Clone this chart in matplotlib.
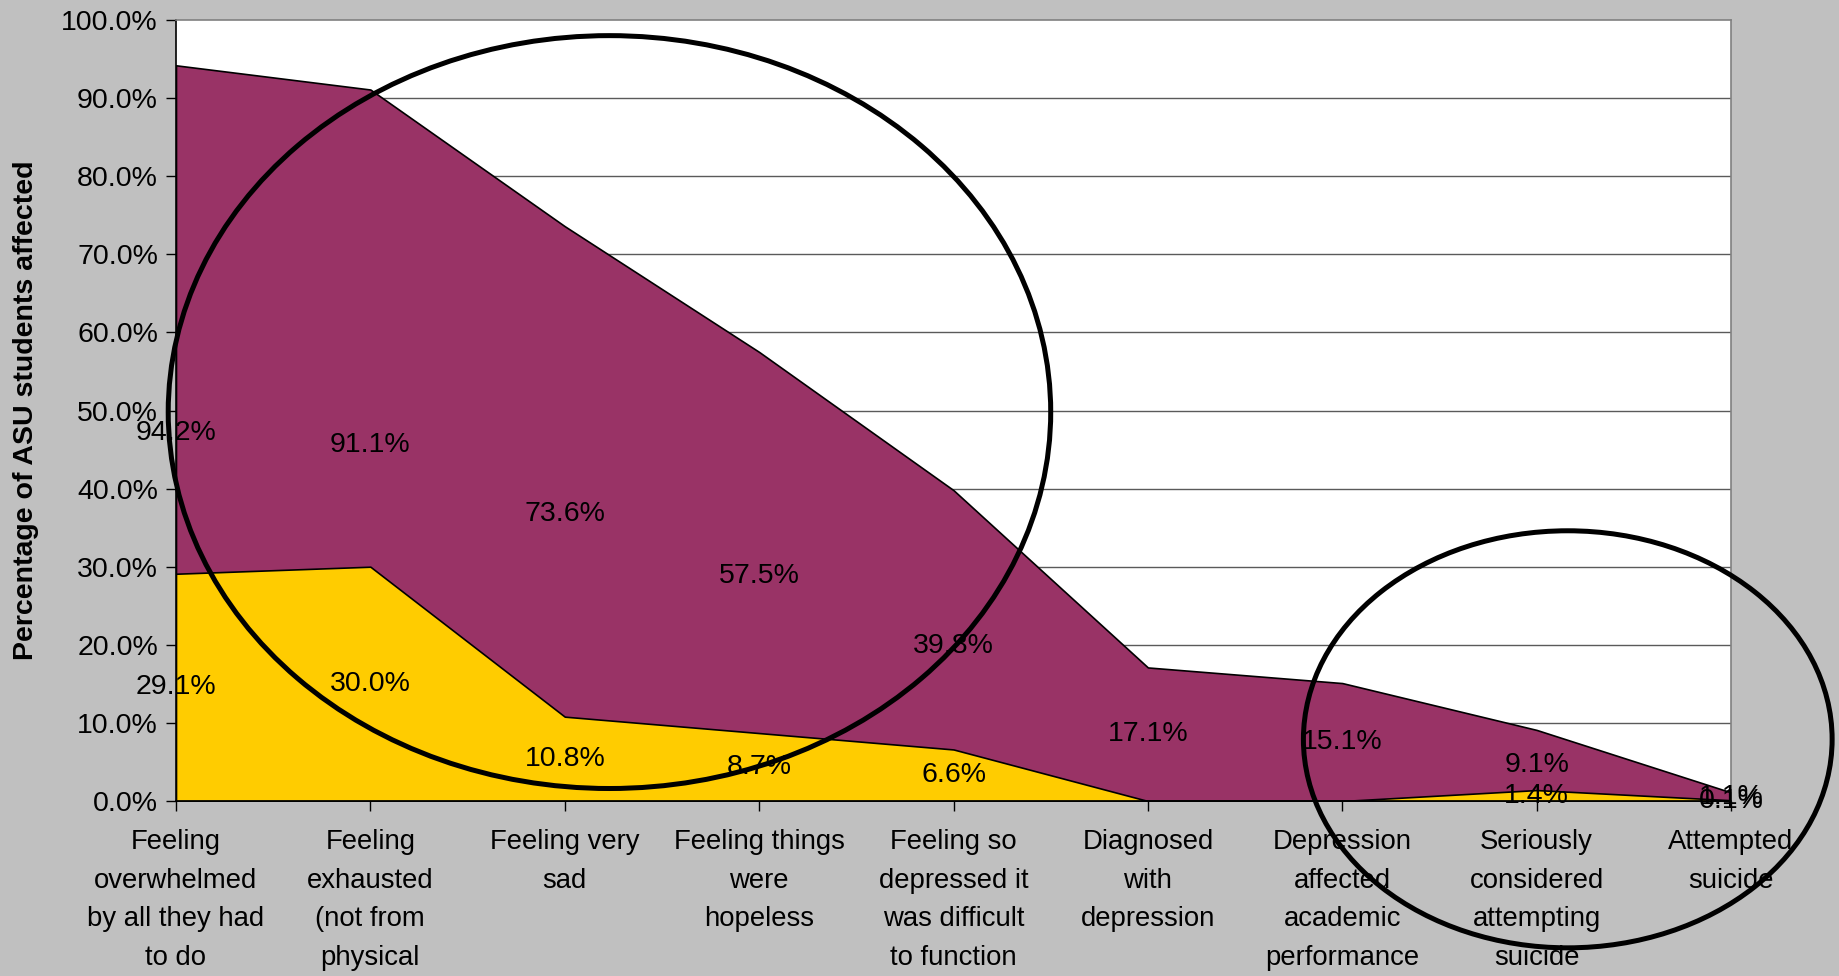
import matplotlib.pyplot as plt
from matplotlib.patches import Ellipse
import numpy as np

# Data
categories = [
    'Feeling\noverwhelmed\nby all they had\nto do',
    'Feeling\nexhausted\n(not from\nphysical\nactivity)',
    'Feeling very\nsad',
    'Feeling things\nwere\nhopeless',
    'Feeling so\ndepressed it\nwas difficult\nto function',
    'Diagnosed\nwith\ndepression',
    'Depression\naffected\nacademic\nperformance',
    'Seriously\nconsidered\nattempting\nsuicide',
    'Attempted\nsuicide',
]
total_pct = [94.2, 91.1, 73.6, 57.5, 39.8, 17.1, 15.1, 9.1, 1.1]
asu_pct = [29.1, 30.0, 10.8, 8.7, 6.6, 0.0, 0.0, 1.4, 0.1]
yticks = [0, 10, 20, 30, 40, 50, 60, 70, 80, 90, 100]

purple = '#993366'
yellow = '#FFCC00'
bg = '#C0C0C0'
label_font = 'Liberation Sans'

fig = plt.figure(figsize=(18.39, 9.76), dpi=100, facecolor=bg)
ax = fig.add_axes([0.0957, 0.1793, 0.8456, 0.8002])
ax.set_facecolor('white')

x = np.arange(len(categories))

# grid
for yt in yticks[1:-1]:
    ax.axhline(yt, color='#5a5a5a', lw=1, zorder=1)

ax.fill_between(x, 0, total_pct, facecolor=purple, edgecolor='black', lw=1.2, zorder=2)
ax.fill_between(x, 0, asu_pct, facecolor=yellow, edgecolor='black', lw=1.2, zorder=3)

# data labels at mid height
for xi, v in zip(x, total_pct):
    ax.text(xi, v / 2, f'{v:.1f}%', ha='center', va='center', fontsize=20.5,
            family=label_font, zorder=5, clip_on=False)
for xi, v in zip(x, asu_pct):
    if v > 0:
        ax.text(xi, v / 2, f'{v:.1f}%', ha='center', va='center', fontsize=20.5,
                family=label_font, zorder=5, clip_on=False)

ax.set_xlim(0, 8)
ax.set_ylim(0, 100)
ax.set_yticks(yticks)
ax.set_yticklabels([f'{v:.1f}%' for v in yticks], fontsize=20.5, family=label_font)
ax.set_xticks(x)
ax.set_xticklabels(categories, fontsize=19.8, family=label_font, linespacing=1.64, va='top')
ax.tick_params(axis='both', direction='out', length=7, width=1, color='black')
ax.tick_params(axis='y', pad=6)
ax.tick_params(axis='x', pad=13)

ax.spines['left'].set_color('black')
ax.spines['bottom'].set_color('black')
ax.spines['top'].set_color('#808080')
ax.spines['right'].set_color('#808080')
for s in ax.spines.values():
    s.set_linewidth(1.2)
    s.set_zorder(4)

ax.set_ylabel('Percentage of ASU students affected', fontsize=20.5, fontweight='bold',
              family=label_font, labelpad=16)

# highlighting ellipses
ax.add_patch(Ellipse((2.23, 49.8), 4.54, 96.4, fill=False, edgecolor='black',
                     lw=3.6, zorder=10, clip_on=False))
ax.add_patch(Ellipse((7.16, 7.9), 2.72, 53.4, fill=False, edgecolor='black',
                     lw=3.6, zorder=10, clip_on=False))

fig.savefig('out.png', dpi=100, facecolor=bg)
